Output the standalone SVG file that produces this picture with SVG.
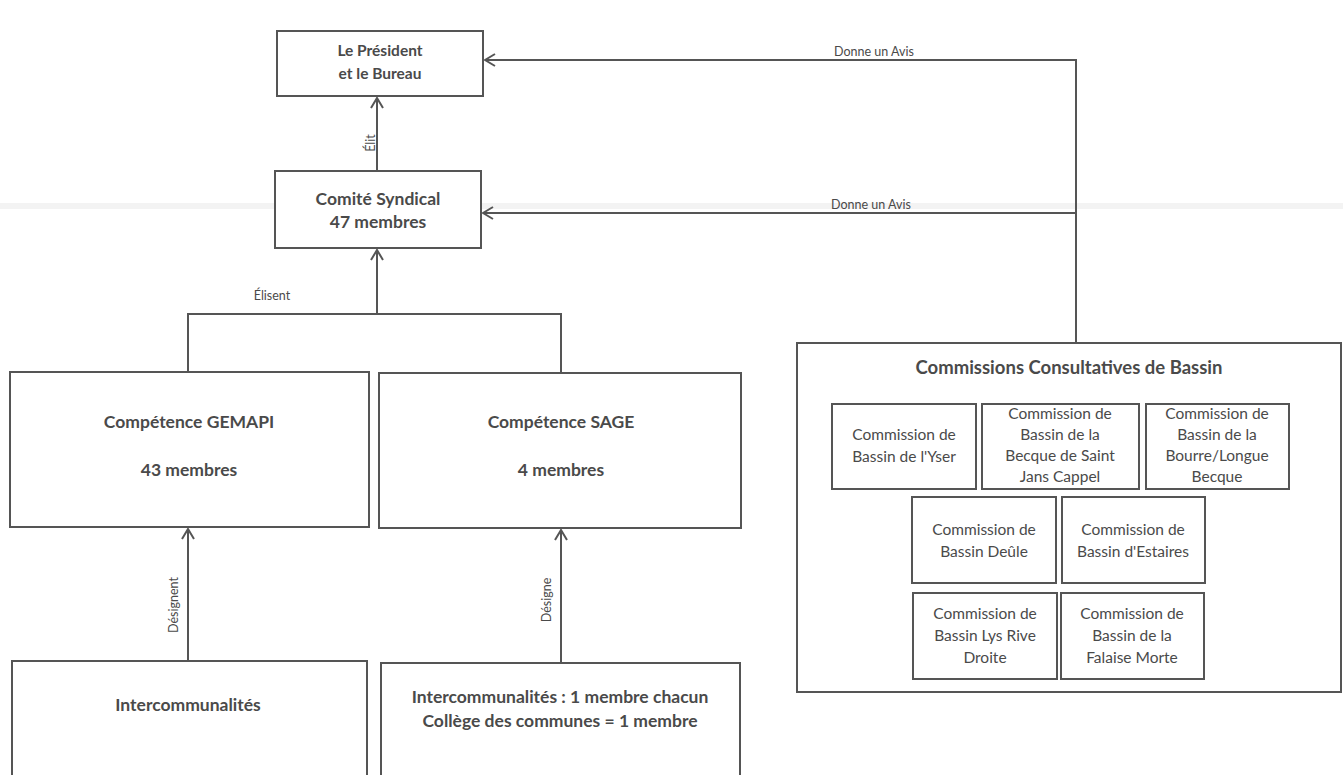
<svg xmlns="http://www.w3.org/2000/svg" width="1343" height="775" viewBox="0 0 1343 775">
<style>
.box{fill:#fff;stroke:#555;stroke-width:2}
.sub{fill:#fff;stroke:#555;stroke-width:2}
.ln{fill:none;stroke:#555;stroke-width:2}
.t{font-family:Lato,"Liberation Sans",sans-serif;fill:#4a4a4a;text-anchor:middle}
.b{font-weight:bold;font-size:17.5px}
.r{font-size:15.5px}
.s{font-size:12.5px}
</style>
<defs>
<marker id="ah" viewBox="0 0 14 14" refX="13" refY="7" markerWidth="14" markerHeight="14" markerUnits="userSpaceOnUse" orient="auto">
<path d="M3 1 L13 7 L3 13" fill="none" stroke="#555" stroke-width="2"/>
</marker>
</defs>
<rect width="1343" height="775" fill="#fff"/>
<rect x="0" y="203" width="1343" height="6" fill="#f3f3f3"/>
<g id="president">
<rect class="box" x="277" y="31" width="206" height="65"/>
<text class="t b" x="380" y="56" style="font-size:15.5px">Le Président</text>
<text class="t b" x="380" y="79" style="font-size:15.5px">et le Bureau</text>
</g>
<g id="comite">
<rect class="box" x="275" y="171" width="206" height="77"/>
<text class="t b" x="378" y="205">Comité Syndical</text>
<text class="t b" x="378" y="228">47 membres</text>
</g>
<g id="gemapi">
<rect class="box" x="10" y="372" width="359" height="155"/>
<text class="t b" x="189" y="428">Compétence GEMAPI</text>
<text class="t b" x="189" y="476">43 membres</text>
</g>
<g id="sage">
<rect class="box" x="379" y="373" width="362" height="155"/>
<text class="t b" x="561" y="428">Compétence SAGE</text>
<text class="t b" x="561" y="476">4 membres</text>
</g>
<g id="intercom">
<rect class="box" x="12" y="661" width="355" height="120"/>
<text class="t b" x="188" y="711">Intercommunalités</text>
</g>
<g id="intercom-sage">
<rect class="box" x="381" y="663" width="359" height="120"/>
<text class="t b" x="560" y="703">Intercommunalités : 1 membre chacun</text>
<text class="t b" x="560" y="727">Collège des communes = 1 membre</text>
</g>
<g id="commissions">
<rect class="box" x="797" y="343" width="544" height="349"/>
<text class="t b" x="1069" y="374" style="font-size:18.5px">Commissions Consultatives de Bassin</text>
</g>
<g id="c-yser">
<rect class="sub" x="832" y="404" width="144" height="85"/>
<text class="t r" x="904" y="440">Commission de</text>
<text class="t r" x="904" y="462">Bassin de l'Yser</text>
</g>
<g id="c-becque">
<rect class="sub" x="982" y="404" width="157" height="85"/>
<text class="t r" x="1060" y="419">Commission de</text>
<text class="t r" x="1060" y="440">Bassin de la</text>
<text class="t r" x="1060" y="461">Becque de Saint</text>
<text class="t r" x="1060" y="482">Jans Cappel</text>
</g>
<g id="c-bourre">
<rect class="sub" x="1146" y="404" width="143" height="85"/>
<text class="t r" x="1217" y="419">Commission de</text>
<text class="t r" x="1217" y="440">Bassin de la</text>
<text class="t r" x="1217" y="461">Bourre/Longue</text>
<text class="t r" x="1217" y="482">Becque</text>
</g>
<g id="c-deule">
<rect class="sub" x="912" y="497" width="144" height="86"/>
<text class="t r" x="984" y="535">Commission de</text>
<text class="t r" x="984" y="557">Bassin Deûle</text>
</g>
<g id="c-estaires">
<rect class="sub" x="1062" y="497" width="143" height="86"/>
<text class="t r" x="1133" y="535">Commission de</text>
<text class="t r" x="1133" y="557">Bassin d'Estaires</text>
</g>
<g id="c-lys">
<rect class="sub" x="913" y="593" width="144" height="86"/>
<text class="t r" x="985" y="619">Commission de</text>
<text class="t r" x="985" y="641">Bassin Lys Rive</text>
<text class="t r" x="985" y="663">Droite</text>
</g>
<g id="c-falaise">
<rect class="sub" x="1061" y="593" width="143" height="86"/>
<text class="t r" x="1132" y="619">Commission de</text>
<text class="t r" x="1132" y="641">Bassin de la</text>
<text class="t r" x="1132" y="663">Falaise Morte</text>
</g>
<g id="connectors">
<path class="ln" d="M1076 343 V60 H485" marker-end="url(#ah)"/>
<path class="ln" d="M1076 213 H483" marker-end="url(#ah)"/>
<path class="ln" d="M377 171 V98" marker-end="url(#ah)"/>
<path class="ln" d="M377 314 V250" marker-end="url(#ah)"/>
<path class="ln" d="M188 372 V314 H561 V373"/>
<path class="ln" d="M188 661 V529" marker-end="url(#ah)"/>
<path class="ln" d="M561 663 V530" marker-end="url(#ah)"/>
<text class="t s" x="874" y="56">Donne un Avis</text>
<text class="t s" x="871" y="209">Donne un Avis</text>
<text class="t s" transform="translate(375,143) rotate(-90)">Élit</text>
<text class="t s" x="272" y="300">Élisent</text>
<text class="t s" transform="translate(178,605) rotate(-90)">Désignent</text>
<text class="t s" transform="translate(551,600) rotate(-90)">Désigne</text>
</g>
</svg>
